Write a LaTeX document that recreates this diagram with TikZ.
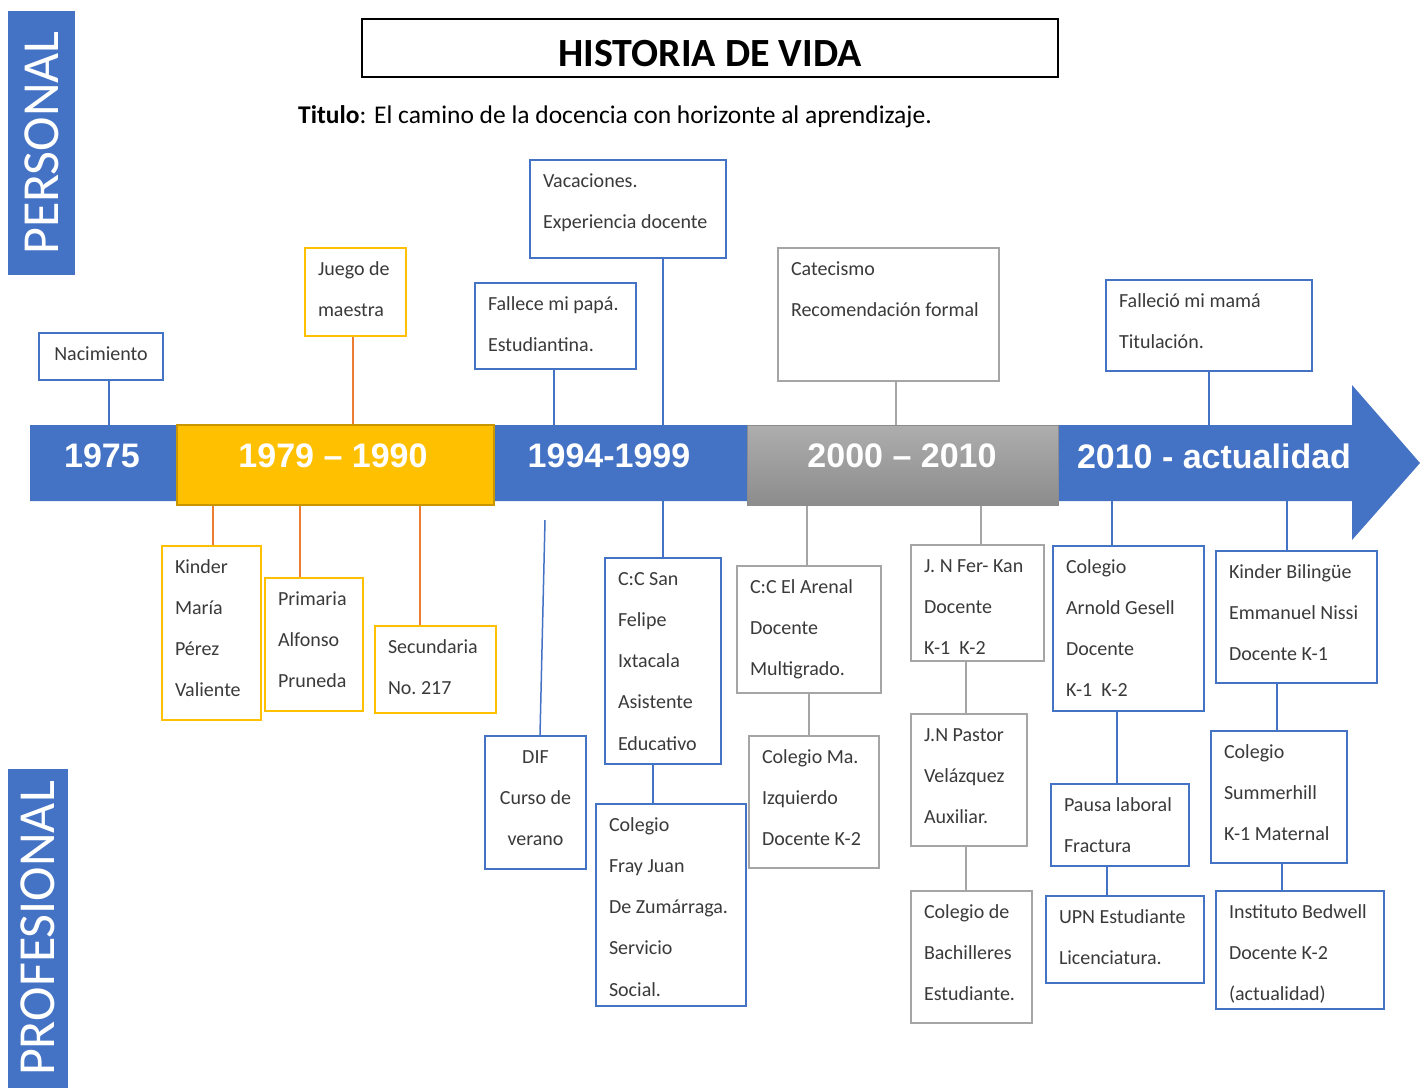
\documentclass[tikz,border=0pt]{standalone}
\usepackage{fontspec}
\setmainfont{Carlito}
\newfontfamily\yearfont{Liberation Sans}
\usepackage{tikz}
\usetikzlibrary{positioning, calc}
\definecolor{barblue}{HTML}{4472C4}
\definecolor{baryellow}{HTML}{FFC000}
\definecolor{yellowedge}{HTML}{C89600}
\definecolor{linkorange}{HTML}{ED7D31}
\definecolor{boxgray}{HTML}{A5A5A5}
\definecolor{txtgray}{HTML}{3A3A3A}
\newcommand{\boxfont}{\fontsize{20}{41.3}\selectfont}
% box text: width, height, lines
\newcommand{\evl}[3]{\parbox[t][\dimexpr#2pt-24pt\relax][t]{\dimexpr#1pt-26pt\relax}{\raggedright\rule{0pt}{15pt}#3}}
\newcommand{\evc}[3]{\parbox[t][\dimexpr#2pt-24pt\relax][t]{\dimexpr#1pt-26pt\relax}{\centering\rule{0pt}{15pt}#3}}
% vertical connector from a (shifted) anchor to the edge of another node
\newcommand{\tie}[4][0]{\draw[#2] ([xshift=#1pt]#3) coordinate (tmp) -- (tmp |- #4);}

\begin{document}
\begin{tikzpicture}[
    x=1pt, y=-1pt,
    evbox/.style={draw=#1, line width=2pt, fill=white, inner xsep=13pt, inner ysep=12pt, anchor=north west, text=txtgray, font=\boxfont},
    seg/.style={inner sep=0pt},
    yearlbl/.style={text=white, inner sep=0pt, font=\yearfont\bfseries\fontsize{34}{34}\selectfont},
    banner/.style={fill=barblue, text=white, rotate=90, inner sep=0pt, font=\fontsize{52}{52}\selectfont},
    lnblue/.style={draw=barblue, line width=2pt},
    lnorange/.style={draw=linkorange, line width=1.8pt},
    lngray/.style={draw=boxgray, line width=2pt}
]
\useasboundingbox (0,0) rectangle (1420,1088);

% side banners
\node[banner, minimum width=264pt, minimum height=67pt] (pers) at (41.5,143) {PERSONAL};
\node[banner, minimum width=319pt, minimum height=60pt] (prof) at (38,928.5) {PROFESIONAL};

% title
\node[draw=black, line width=2.5pt, minimum width=696pt, minimum height=58pt, inner ysep=0pt,
      text height=36pt, text depth=0pt, font=\bfseries\fontsize{40}{40}\selectfont] (title) at (710,48) {HISTORIA DE VIDA};
\node[anchor=base west, inner sep=0pt, font=\fontsize{25.5}{30}\selectfont] (subtitle) at (298,123)
    {\textbf{Titulo}: El camino de la docencia con horizonte al aprendizaje.};

% timeline
\fill[barblue] (30,425) -- (1352,425) -- (1352,385) -- (1420,463) -- (1352,540) -- (1352,501) -- (30,501) -- cycle;
\node[seg, minimum width=147pt, minimum height=76pt] (p1975) at (103.5,463) {};
\node[seg, minimum width=317pt, minimum height=80pt, fill=baryellow, draw=yellowedge, line width=1.5pt] (p1979) at (335.5,465) {};
\node[seg, minimum width=253pt, minimum height=76pt] (p1994) at (620.5,463) {};
\node[seg, minimum width=311pt, minimum height=80pt, top color=black!32, bottom color=black!45, draw=black!45, line width=1pt] (p2000) at (902.5,465) {};
\node[seg, minimum width=294pt, minimum height=76pt] (p2010) at (1205,463) {};

\node[yearlbl] (t1975) at (102,456) {1975};
\node[yearlbl] (t1979) at (333,456) {1979 – 1990};
\node[yearlbl] (t1994) at (609,456) {1994-1999};
\node[yearlbl] (t2000) at (902,456) {2000 – 2010};
\node[yearlbl] (t2010) at (1214,456) {2010 - actualidad};

% personal events
\node[evbox=barblue] (nac) at (38,332) {\evc{124}{47}{Nacimiento}};
\node[evbox=baryellow] (juego) at (304,247) {\evl{101}{88}{Juego~de\\maestra}};
\node[evbox=barblue] (papa) at (474,282) {\evl{161}{86}{Fallece~mi~papá.\\Estudiantina.}};
\node[evbox=barblue] (vaca) at (529,159) {\evl{196}{98}{Vacaciones.\\Experiencia~docente}};
\node[evbox=boxgray] (cate) at (777,247) {\evl{221}{133}{Catecismo\\Recomendación~formal}};
\node[evbox=barblue] (mama) at (1105,279) {\evl{206}{91}{Falleció~mi~mamá\\Titulación.}};

% professional events
\node[evbox=baryellow] (kinder) at (161,545) {\evl{99}{174}{Kinder\\María\\Pérez\\Valiente}};
\node[evbox=baryellow] (prim) at (264,577) {\evl{98}{133}{Primaria\\Alfonso\\Pruneda}};
\node[evbox=baryellow] (secu) at (374,625) {\evl{121}{87}{Secundaria\\No.~217}};
\node[evbox=barblue] (dif) at (484,735) {\evc{101}{133}{DIF\\Curso~de\\verano}};
\node[evbox=barblue] (ccsan) at (604,557) {\evl{116}{206}{C:C~San\\Felipe\\Ixtacala\\Asistente\\Educativo}};
\node[evbox=barblue] (fray) at (595,803) {\evl{150}{202}{Colegio\\Fray~Juan\\De~Zumárraga.\\Servicio\\Social.}};
\node[evbox=boxgray] (arenal) at (736,565) {\evl{144}{127}{C:C~El~Arenal\\Docente\\Multigrado.}};
\node[evbox=boxgray] (colma) at (748,735) {\evl{130}{132}{Colegio~Ma.\\Izquierdo\\Docente~K-2}};
\node[evbox=boxgray] (jnfer) at (910,544) {\evl{133}{116}{J.~N~Fer-~Kan\\Docente\\K-1~~K-2}};
\node[evbox=boxgray] (jnpas) at (910,713) {\evl{116}{132}{J.N~Pastor\\Velázquez\\Auxiliar.}};
\node[evbox=boxgray] (bach) at (910,890) {\evl{121}{132}{Colegio~de\\Bachilleres\\Estudiante.}};
\node[evbox=barblue] (arnold) at (1052,545) {\evl{151}{165}{Colegio\\Arnold~Gesell\\Docente\\K-1~~K-2}};
\node[evbox=barblue] (pausa) at (1050,783) {\evl{138}{82}{Pausa~laboral\\Fractura}};
\node[evbox=barblue] (upn) at (1045,895) {\evl{158}{87}{UPN~Estudiante\\Licenciatura.}};
\node[evbox=barblue] (kbil) at (1215,550) {\evl{161}{132}{Kinder~Bilingüe\\Emmanuel~Nissi\\Docente~K-1}};
\node[evbox=barblue] (summ) at (1210,730) {\evl{136}{132}{Colegio\\Summerhill\\K-1~Maternal}};
\node[evbox=barblue] (bedw) at (1215,890) {\evl{168}{118}{Instituto~Bedwell\\Docente~K-2\\(actualidad)}};

% connectors above the timeline
\tie[8]{lnblue}{nac.south}{p1975.north}
\tie[-2.5]{lnorange}{juego.south}{p1979.north}
\tie[-1.5]{lnblue}{papa.south}{p1994.north}
\tie[35]{lnblue}{vaca.south}{p1994.north}
\tie[7.5]{lngray}{cate.south}{p2000.north}
\tie[0]{lnblue}{mama.south}{p2010.north}

% connectors below the timeline
\tie[1.5]{lnorange}{kinder.north}{p1979.south}
\tie[-14]{lnorange}{prim.north}{p1979.south}
\tie[-15.5]{lnorange}{secu.north}{p1979.south}
\coordinate (diftop) at (545,520);
\draw[lnblue, line width=1.5pt] ([xshift=4.5pt]dif.north) -- (diftop);
\tie[0]{lnblue}{ccsan.north}{p1994.south}
\tie[-18]{lnblue}{fray.north}{ccsan.south}
\tie[-2]{lngray}{arenal.north}{p2000.south}
\tie[-5]{lngray}{colma.north}{arenal.south}
\tie[3.5]{lngray}{jnfer.north}{p2000.south}
\tie[-3]{lngray}{jnpas.north}{jnfer.south}
\tie[-5.5]{lngray}{bach.north}{jnpas.south}
\tie[-16.5]{lnblue}{arnold.north}{p2010.south}
\tie[-3]{lnblue}{pausa.north}{arnold.south}
\tie[-18]{lnblue}{upn.north}{pausa.south}
\tie[-9.5]{lnblue}{kbil.north}{p2010.south}
\tie[-2]{lnblue}{summ.north}{kbil.south}
\tie[-18]{lnblue}{bedw.north}{summ.south}

\end{tikzpicture}
\end{document}
